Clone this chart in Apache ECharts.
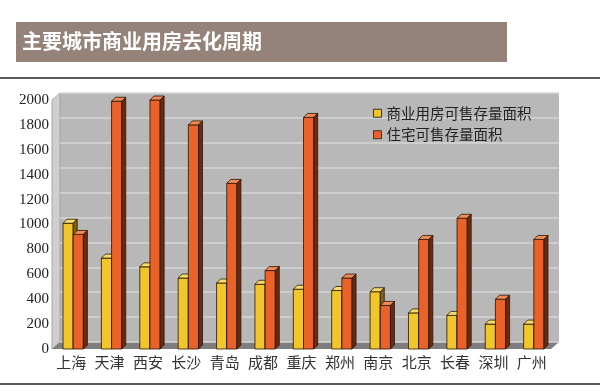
<!DOCTYPE html>
<html><head><meta charset="utf-8">
<script src="https://cdn.jsdelivr.net/npm/echarts@6/dist/echarts.min.js"></script>
<style>html,body{margin:0;padding:0;background:#fff}#c{width:600px;height:391px}</style>
</head><body><div id="c"></div>
<script>
var categories = ['上海','天津','西安','长沙','青岛','成都','重庆','郑州','南京','北京','长春','深圳','广州'];
var commercial = [1010, 730, 660, 570, 530, 520, 480, 470, 460, 290, 270, 200, 200];
var residential = [920, 1990, 2000, 1800, 1330, 630, 1860, 570, 350, 880, 1050, 400, 880];
var seriesNames = ['商业用房可售存量面积', '住宅可售存量面积'];
var yTicks = [0, 200, 400, 600, 800, 1000, 1200, 1400, 1600, 1800, 2000];

var F = {l: 52, r: 49, t: 100, b: 42};   // front plane
var D = {x: 8, y: 7};                      // wall depth
var W = 600, H = 391;

function bar3d(front, top, side, shift) {
  return function (params, api) {
    var c = api.coord([api.value(0), api.value(1)]);
    var b = api.coord([api.value(0), 0]);
    var bw = api.size([1, 0])[0];
    var w = bw * 0.265, d = 4;
    var x0 = c[0] + 2 + (shift - 1) * w, x1 = x0 + w, y = c[1], y0 = b[1];
    var st = {stroke: '#2a1505', lineWidth: 0.8};
    return {type: 'group', children: [
      {type: 'rect', shape: {x: x0, y: y, width: w, height: y0 - y}, style: Object.assign({fill: front}, st)},
      {type: 'polygon', shape: {points: [[x0, y], [x0 + d, y - d], [x1 + d, y - d], [x1, y]]}, style: Object.assign({fill: top}, st)},
      {type: 'polygon', shape: {points: [[x1, y], [x1 + d, y - d], [x1 + d, y0 - d], [x1, y0]]}, style: Object.assign({fill: side}, st)}
    ]};
  };
}

var chart = echarts.init(document.getElementById('c'));
var fx0 = F.l, fx1 = W - F.r, fy0 = F.t, fy1 = H - F.b;
chart.setOption({
  animation: false,
  graphic: [
    {type: 'rect', shape: {x: 16, y: 22, width: 491, height: 40}, style: {fill: '#958279'}},
    {type: 'text', left: 22, top: 31, style: {text: '主要城市商业用房去化周期', fill: '#fff', font: 'bold 20px "Noto Sans CJK SC"'}},
    {type: 'rect', shape: {x: 0, y: 77, width: 600, height: 2}, style: {fill: '#5a5a5a'}},
    {type: 'rect', shape: {x: 0, y: 383, width: 600, height: 2}, style: {fill: '#5a5a5a'}},
    {type: 'polygon', z: -1, shape: {points: [[fx0, fy0], [fx0 + D.x, fy0 - D.y], [fx0 + D.x, fy1 - D.y], [fx0, fy1]]}, style: {fill: '#cfcfcf', stroke: '#9a9a9a', lineWidth: 0.8}},
    {type: 'polygon', z: -1, shape: {points: [[fx0, fy1], [fx0 + D.x, fy1 - D.y], [fx1 + D.x, fy1 - D.y], [fx1, fy1]]}, style: {fill: '#7e7e7e'}}
  ],
  legend: {
    orient: 'vertical', left: 368, top: 101, itemWidth: 8, itemHeight: 8, itemGap: 7,
    icon: 'rect', itemStyle: {borderColor: '#333', borderWidth: 1},
    textStyle: {fontFamily: 'Noto Sans CJK SC', fontSize: 14.5, color: '#222'},
    data: seriesNames
  },
  grid: [
    {left: F.l + D.x, right: F.r - D.x, top: F.t - D.y, bottom: F.b + D.y, show: true, backgroundColor: '#b8b8b8', borderWidth: 0, z: -2},
    {left: F.l, right: F.r, top: F.t, bottom: F.b}
  ],
  xAxis: [
    {gridIndex: 0, type: 'category', data: categories, show: false},
    {gridIndex: 1, type: 'category', data: categories,
     axisLine: {show: false}, axisTick: {show: false},
     axisLabel: {margin: 6, fontFamily: 'Noto Sans CJK SC', fontSize: 15, color: '#333', interval: 0}}
  ],
  yAxis: [
    {gridIndex: 0, type: 'value', min: 0, max: 2000, interval: 200, axisLabel: {show: false}, axisLine: {show: false}, axisTick: {show: false},
     splitLine: {lineStyle: {color: '#d6d6d6', width: 1.5}}},
    {gridIndex: 1, type: 'value', min: 0, max: 2000, interval: 200, splitLine: {show: false}, axisLine: {show: false}, axisTick: {show: false},
     axisLabel: {margin: 3, fontFamily: 'Liberation Serif', fontSize: 15, color: '#222',
       customValues: yTicks, formatter: function (v) { return String(v); }}}
  ],
  series: [
    {name: seriesNames[0], type: 'custom', xAxisIndex: 1, yAxisIndex: 1, itemStyle: {color: '#f0c62a'},
     renderItem: bar3d('#f0c62a', '#f7dc6a', '#7d6410', 0), encode: {x: 0, y: 1},
     data: categories.map(function (c, i) { return [i, commercial[i]]; })},
    {name: seriesNames[1], type: 'custom', xAxisIndex: 1, yAxisIndex: 1, itemStyle: {color: '#e8622a'},
     renderItem: bar3d('#e8622a', '#f08a52', '#6a2a10', 1), encode: {x: 0, y: 1},
     data: categories.map(function (c, i) { return [i, residential[i]]; })}
  ]
});
</script></body></html>
